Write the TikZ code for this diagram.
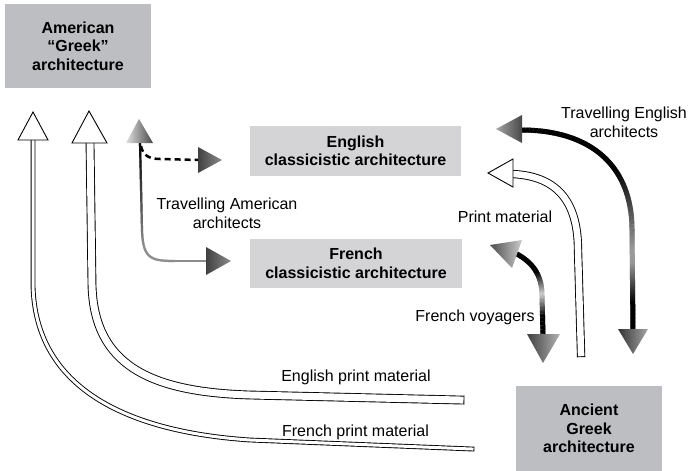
\documentclass[tikz,border=0pt]{standalone}
\usepackage{fontspec}
\setmainfont{Liberation Sans}
\usetikzlibrary{decorations.markings}
\definecolor{boxdark}{RGB}{189,190,194}
\definecolor{boxlight}{RGB}{212,212,214}
\tikzset{
  box/.style={fill=#1, inner sep=0pt, align=center, font=\bfseries\fontsize{16}{18.5}\selectfont},
  lbl/.style={inner sep=0pt, align=center, font=\fontsize{16}{18.5}\selectfont},
  dbl/.style={double=white, draw=black, line width=0.9pt, line cap=rect, double distance=#1},
  openhead/.style={draw=black, fill=white, line width=0.9pt, line join=miter},
  gradline/.style 2 args={postaction={decorate, decoration={markings,
      mark=between positions 0 and 1 step 0.8pt with {
        \pgfmathsetmacro\gradF{\pgfkeysvalueof{/pgf/decoration/mark info/distance from start}/\pgfdecoratedpathlength}%
        \pgfmathsetmacro\gradG{#2}%
        \draw[line width=#1, black!\gradG] (-0.6pt,0pt) -- (0.6pt,0pt);
      }}}},
}
\begin{document}
\begin{tikzpicture}[x=1pt,y=-1pt]
\useasboundingbox (0,0) rectangle (688,471);

% boxes
\node[box=boxdark, minimum width=146pt, minimum height=84pt] (amer) at (78,46) {American\\“Greek”\\architecture};
\node[box=boxlight, minimum width=211pt, minimum height=50pt] (eng) at (355.5,151) {English\\classicistic architecture};
\node[box=boxlight, minimum width=212pt, minimum height=49pt] (fre) at (356,263.5) {French\\classicistic architecture};
\node[box=boxdark, minimum width=146pt, minimum height=85pt] (anc) at (589,428.5) {Ancient\\Greek\\architecture};

% labels
\node[lbl] (ltam) at (227,213.5) {Travelling American\\architects};
\node[lbl] (lten) at (624,122.5) {Travelling English\\architects};
\node[lbl] (lpm) at (505,217) {Print material};
\node[lbl] (lfv) at (475,317) {French voyagers};
\node[lbl] (lepm) at (356,377) {English print material};
\node[lbl] (lfpm) at (355.5,432) {French print material};

% end points
\coordinate (fpA) at (33,139);
\coordinate (fpB) at (472,449);
\coordinate (epA) at (90,142);
\coordinate (epB) at (460,400);
\coordinate (pmA) at (512,174);
\coordinate (pmB) at (581,353);
\coordinate (taA) at (140,142);
\coordinate (taB) at (207,261);
\coordinate (daA) at (141,146);
\coordinate (daB) at (199,160);
\coordinate (teA) at (521,130);
\coordinate (teB) at (633,330);
\coordinate (fvA) at (517,254);
\coordinate (fvB) at (543,335);

% double-line connectors (print material)
\draw[dbl=3pt] (fpA) -- (33,285) .. controls (35,390) and (130,432) .. (250,440) -- (fpB);
\draw[dbl=7pt] (epA) -- (92,285) .. controls (94,365) and (150,392) .. (250,395) -- (epB);
\draw[dbl=6.5pt] (pmA) .. controls (560,176) and (578,205) .. (578,250) -- (pmB);

\draw[openhead] (33,112) -- (48,140) -- (18,140) -- cycle;
\draw[openhead] (89,111) -- (107,143) -- (72,143) -- cycle;
\draw[openhead] (488,173) -- (513,159) -- (513,187) -- cycle;

% travelling American architects
\path[gradline={2.2pt}{100-55*min(1,\gradF/0.6)}] (taA) -- (142,230) .. controls (143,258) and (150,261) .. (175,261) -- (taB);
\draw[line width=2.5pt, dash pattern=on 6pt off 4pt] (daA) .. controls (143,156) and (150,159) .. (160,159) -- (daB);
\shade[left color=black!12, right color=black!72] (139,119) -- (153,143) -- (126,143) -- cycle;
\shade[left color=black!75, right color=black!45] (198,147) -- (222,160) -- (198,173) -- cycle;
\shade[left color=black!75, right color=black!45] (206,247) -- (231,261) -- (206,275) -- cycle;

% travelling English architects
\path[gradline={5pt}{100-60*max(0,min(1,(\gradF-0.4)/0.3,(0.9-\gradF)/0.15))}] (teA) .. controls (590,130) and (632,165) .. (632,230) -- (teB);
\shade[left color=black!35, right color=black!72] (496,129) -- (522,115) -- (522,143) -- cycle;
\shade[left color=black!80, right color=black!35] (618,329) -- (648,329) -- (633,354) -- cycle;

% French voyagers
\path[gradline={5pt}{100-80*max(0,min((\gradF-0.3)/0.25,(0.8-\gradF)/0.25))}] (fvA) .. controls (533,263) and (542,275) .. (542,296) -- (fvB);
\shade[left color=black!70, right color=black!20] (490,245) -- (522,240) -- (512,268) -- cycle;
\shade[left color=black!75, right color=black!30] (527,334) -- (560,334) -- (543,363) -- cycle;
\end{tikzpicture}
\end{document}
